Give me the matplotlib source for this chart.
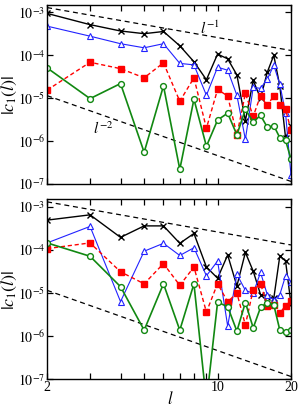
import matplotlib
matplotlib.use("Agg")
import matplotlib.pyplot as plt
from matplotlib.ticker import FixedLocator, NullLocator, FixedFormatter
import numpy as np

plt.rcParams['font.family'] = ['Liberation Serif', 'DejaVu Serif']
plt.rcParams['mathtext.fontset'] = 'stix'
plt.rcParams['font.size'] = 10

l = np.arange(2, 21)

# top panel
top_black = [9.5e-4, 5.2e-4, 3.7e-4, 3.2e-4, 3.6e-4, 1.67e-4, 7.1e-5, 2.7e-5, 1.07e-4, 8.3e-5,
             3.5e-5, 3.0e-6, 2.6e-5, 1.0e-5, 4.1e-5, 1.0e-4, 1.9e-5, 1.2e-6, 2.2e-6]
top_blue = [4.8e-4, 2.8e-4, 1.87e-4, 1.5e-4, 1.87e-4, 6.5e-5, 6.0e-5, 1.17e-5, 5.3e-5, 4.5e-5,
            1.17e-5, 1.1e-6, 1.8e-5, 1.7e-5, 2.8e-5, 5.9e-5, 2.1e-5, 4.5e-6, 1.6e-7]
top_red = [1.55e-5, 6.9e-5, 4.9e-5, 3.0e-5, 6.7e-5, 8.5e-6, 3.0e-5, 2.0e-6, 1.6e-5, 1.13e-5,
           1.4e-6, 1.3e-5, 3.8e-6, 1.15e-5, 6.8e-6, 1.15e-5, 6.8e-6, 5.5e-6, 1.8e-6]
top_green = [5.1e-5, 9.8e-6, 2.2e-5, 5.5e-7, 1.94e-5, 2.2e-7, 9.5e-6, 7.6e-7, 3.1e-6, 4.5e-6,
             1.4e-6, 5.5e-6, 2.8e-6, 4.0e-6, 2.1e-6, 2.3e-6, 1.2e-6, 1.05e-6, 3.8e-7]

# bottom panel
bot_black = [4.9e-4, 6.5e-4, 1.95e-4, 3.6e-4, 3.6e-4, 1.42e-4, 2.4e-4, 4.0e-5, 2.2e-5, 7.6e-5,
             1.45e-5, 8.7e-5, 3.2e-5, 9.2e-6, 8.2e-6, 7.5e-6, 7.3e-5, 5.5e-5, 5.5e-6]
bot_blue = [1.45e-4, 3.5e-4, 6.3e-6, 9.3e-5, 1.42e-4, 7.4e-5, 1.12e-4, 2.5e-5, 5.5e-5, 1.7e-6,
            2.7e-5, 1.15e-5, 9.8e-6, 3.0e-5, 9.0e-6, 6.8e-6, 9.2e-6, 2.5e-5, 1.8e-5]
bot_red = [1.07e-4, 1.45e-4, 3.1e-5, 1.63e-5, 4.8e-5, 1.5e-5, 4.0e-5, 3.6e-6, 1.65e-5, 6.2e-6,
           1.0e-5, 1.8e-6, 1.2e-5, 1.65e-5, 5.0e-6, 5.2e-6, 3.4e-6, 5.1e-6, 6.5e-6]
bot_green = [1.45e-4, 7.1e-5, 1.4e-5, 1.37e-6, 1.63e-5, 1.37e-6, 1.63e-5, 3e-8, 6.1e-6, 4.8e-6,
             1.3e-6, 6.0e-6, 1.55e-6, 4.6e-6, 6.0e-6, 5.3e-6, 1.37e-6, 1.26e-6, 1.37e-6]

c_l1 = 2.6e-3   # l^-1 guide
c_l2 = 4.6e-5   # l^-2 guide

fig = plt.figure(figsize=(3.0, 4.09), dpi=100)
ax1 = fig.add_axes([0.157, 0.550, 0.813, 0.438])
ax2 = fig.add_axes([0.157, 0.073, 0.813, 0.440])


def draw(ax, black, blue, red, green):
    lg = np.array([2, 20])
    ax.plot(lg, c_l1 / lg, 'k--', lw=0.9, dashes=(4, 3))
    ax.plot(lg, c_l2 / lg**2, 'k--', lw=0.9, dashes=(4, 3))
    ax.plot(l, black, '-', color='black', lw=1.0, marker='x', ms=4, mew=1.0)
    ax.plot(l, blue, '-', color='#2222ff', lw=0.8, marker='^', ms=4.5, mfc='white', mew=0.8)
    ax.plot(l, red, '--', color='red', lw=1.0, dashes=(3, 2), marker='s', ms=4.5)
    ax.plot(l, green, '-', color='#118811', lw=1.2, marker='o', ms=4.2, mfc='white', mew=1.0)
    ax.set_xscale('log')
    ax.set_yscale('log')
    ax.set_xlim(2, 20)
    ax.set_ylim(1e-7, 1.5e-3)
    ax.xaxis.set_major_locator(FixedLocator([2, 3, 4, 5, 6, 7, 8, 9, 10, 20]))
    ax.xaxis.set_minor_locator(NullLocator())
    ax.yaxis.set_major_locator(FixedLocator([1e-7, 1e-6, 1e-5, 1e-4, 1e-3]))
    ax.yaxis.set_minor_locator(NullLocator())
    ax.yaxis.set_major_formatter(FixedFormatter(
        [r'$10^{-7}$', r'$10^{-6}$', r'$10^{-5}$', r'$10^{-4}$', r'$10^{-3}$']))
    ax.tick_params(which='both', direction='in', top=True, right=True, length=4.5, width=0.9,
                   labelsize=10, pad=1.5)
    for s in ax.spines.values():
        s.set_linewidth(1.0)


draw(ax1, top_black, top_blue, top_red, top_green)
draw(ax2, bot_black, bot_blue, bot_red, bot_green)

ax1.xaxis.set_major_formatter(FixedFormatter([''] * 10))
ax2.xaxis.set_major_formatter(FixedFormatter(['2', '', '', '', '', '', '', '', '10', '20']))

fig.text(0.032, 1 - 95 / 409, r'$|c_1(l)|$', fontsize=13, rotation=90, ha='center', va='center')
fig.text(0.032, 1 - 290 / 409, r'$|c_1(l)|$', fontsize=13, rotation=90, ha='center', va='center')
fig.text(170 / 300, 1 - 400 / 409, r'$l$', fontsize=12, ha='center', va='center')

ax1.text(9.3, 4.3e-4, r'$l^{-1}$', fontsize=11, ha='center', va='center')
ax1.text(3.4, 2.0e-6, r'$l^{-2}$', fontsize=11, ha='center', va='center')

fig.savefig('out.png', dpi=100)
